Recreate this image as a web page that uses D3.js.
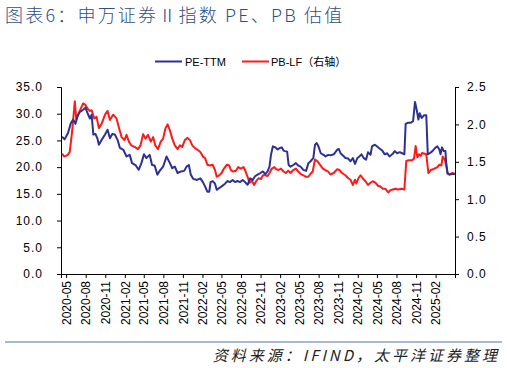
<!DOCTYPE html>
<html><head><meta charset="utf-8">
<script src="https://cdn.jsdelivr.net/npm/d3@7"></script>
<style>body{margin:0;background:#fff;}svg{display:block;}</style>
</head><body>
<svg id="chart" width="507" height="368"></svg>
<script>
// Time is given as decimal year (year + month/12 + fraction of month)
const peTime = [2020.282,2020.316,2020.359,2020.393,2020.423,2020.453,2020.479,2020.509,2020.552,2020.582,2020.616,2020.638,2020.659,2020.681,2020.711,2020.736,2020.754,2020.788,2020.831,2020.865,2020.895,2020.925,2020.959,2020.994,2021.024,2021.067,2021.110,2021.153,2021.183,2021.226,2021.269,2021.303,2021.337,2021.367,2021.410,2021.440,2021.475,2021.509,2021.539,2021.582,2021.625,2021.668,2021.698,2021.732,2021.767,2021.810,2021.852,2021.882,2021.913,2021.938,2021.968,2022.015,2022.058,2022.092,2022.122,2022.152,2022.178,2022.195,2022.221,2022.251,2022.273,2022.307,2022.337,2022.380,2022.410,2022.444,2022.479,2022.509,2022.539,2022.573,2022.607,2022.637,2022.667,2022.702,2022.736,2022.766,2022.796,2022.831,2022.865,2022.895,2022.925,2022.951,2022.968,2022.994,2023.024,2023.054,2023.079,2023.109,2023.131,2023.152,2023.182,2023.199,2023.225,2023.259,2023.294,2023.324,2023.354,2023.388,2023.423,2023.453,2023.483,2023.517,2023.539,2023.560,2023.582,2023.612,2023.646,2023.672,2023.706,2023.736,2023.779,2023.822,2023.844,2023.865,2023.895,2023.929,2023.963,2023.993,2024.023,2024.049,2024.079,2024.109,2024.135,2024.165,2024.195,2024.220,2024.250,2024.272,2024.306,2024.336,2024.366,2024.401,2024.435,2024.465,2024.495,2024.530,2024.564,2024.594,2024.624,2024.658,2024.684,2024.701,2024.736,2024.766,2024.796,2024.822,2024.843,2024.864,2024.882,2024.907,2024.937,2024.967,2024.984,2025.010,2025.044,2025.079,2025.109,2025.139,2025.152,2025.173,2025.195,2025.216,2025.225,2025.242,2025.268,2025.302,2025.337];
const peValues = [25.7,25.2,26.4,28.2,28.9,28.1,29.5,30.3,30.75,31.1,29.8,29.1,29.8,26.1,26.2,25.4,24.2,25.1,26.1,27.0,25.4,26.2,26.1,25.1,23.6,23.25,22.0,22.3,20.75,20.4,19.5,20.75,22.4,21.7,22.3,20.4,20.3,18.6,19.3,20.1,22.0,20.75,19.8,20.1,18.9,19.2,19.3,20.1,20.4,18.6,17.8,17.6,17.9,17.2,16.4,15.4,15.4,17.2,17.4,16.9,15.75,16.1,16.4,16.9,17.4,17.2,17.6,17.2,17.4,17.2,17.6,17.2,16.7,17.9,17.6,18.3,18.6,18.9,19.2,18.7,19.2,20.1,22.3,23.9,23.7,23.3,23.6,23.7,23.1,23.0,22.9,20.4,20.1,20.4,20.75,20.3,20.1,19.5,19.3,20.75,21.1,21.7,24.2,24.5,23.9,22.6,22.3,22.0,22.3,22.2,22.4,23.25,23.4,22.6,22.2,21.7,21.6,21.1,21.7,20.6,21.7,22.0,22.4,21.7,21.4,22.8,22.3,23.9,24.2,23.9,23.5,23.1,22.4,22.6,22.0,22.4,23.0,22.6,22.8,22.6,22.4,28.1,28.3,28.3,28.6,32.2,30.75,28.9,30.1,29.2,29.7,29.7,22.4,22.6,23.0,23.6,23.9,23.25,22.4,23.7,23.0,23.0,21.1,18.8,18.6,18.7,18.7];
const pbTime = [2020.282,2020.307,2020.350,2020.380,2020.410,2020.432,2020.445,2020.466,2020.488,2020.522,2020.552,2020.582,2020.608,2020.638,2020.659,2020.694,2020.724,2020.754,2020.788,2020.831,2020.865,2020.895,2020.938,2020.981,2021.011,2021.045,2021.079,2021.110,2021.140,2021.174,2021.217,2021.260,2021.294,2021.325,2021.355,2021.389,2021.423,2021.453,2021.483,2021.518,2021.552,2021.582,2021.612,2021.638,2021.668,2021.698,2021.732,2021.767,2021.797,2021.827,2021.861,2021.895,2021.925,2021.955,2021.994,2022.024,2022.058,2022.092,2022.122,2022.152,2022.187,2022.221,2022.251,2022.273,2022.307,2022.337,2022.367,2022.402,2022.436,2022.453,2022.487,2022.521,2022.551,2022.582,2022.616,2022.637,2022.667,2022.693,2022.723,2022.753,2022.779,2022.809,2022.839,2022.865,2022.895,2022.925,2022.951,2022.981,2023.011,2023.036,2023.066,2023.096,2023.131,2023.165,2023.195,2023.225,2023.259,2023.294,2023.324,2023.354,2023.388,2023.423,2023.453,2023.483,2023.509,2023.539,2023.569,2023.603,2023.638,2023.672,2023.706,2023.736,2023.779,2023.822,2023.852,2023.886,2023.929,2023.963,2023.993,2024.023,2024.049,2024.066,2024.092,2024.122,2024.152,2024.186,2024.220,2024.250,2024.280,2024.315,2024.349,2024.379,2024.409,2024.443,2024.478,2024.508,2024.538,2024.572,2024.607,2024.650,2024.684,2024.710,2024.744,2024.779,2024.809,2024.830,2024.852,2024.873,2024.895,2024.916,2024.937,2024.967,2024.993,2025.023,2025.053,2025.087,2025.109,2025.139,2025.165,2025.182,2025.208,2025.225,2025.242,2025.268,2025.302,2025.337];
const pbValues = [1.61,1.57,1.59,1.63,1.90,2.15,2.31,2.06,2.13,2.21,2.28,2.26,2.21,2.18,2.19,2.08,2.10,1.95,2.01,2.13,2.18,2.06,2.13,2.08,1.95,1.83,1.79,1.86,1.77,1.72,1.70,1.67,1.72,1.87,1.81,1.86,1.77,1.83,1.72,1.67,1.77,1.81,1.95,2.00,1.92,1.81,1.72,1.67,1.72,1.70,1.79,1.82,1.79,1.72,1.68,1.66,1.63,1.57,1.55,1.46,1.45,1.46,1.39,1.30,1.32,1.35,1.41,1.46,1.45,1.39,1.37,1.38,1.43,1.41,1.43,1.39,1.30,1.22,1.25,1.19,1.24,1.28,1.27,1.32,1.32,1.31,1.35,1.41,1.43,1.40,1.39,1.41,1.37,1.35,1.38,1.35,1.39,1.41,1.37,1.34,1.32,1.30,1.30,1.34,1.37,1.53,1.51,1.46,1.41,1.39,1.37,1.33,1.35,1.40,1.39,1.35,1.32,1.28,1.26,1.19,1.26,1.21,1.28,1.32,1.28,1.24,1.19,1.22,1.24,1.22,1.18,1.17,1.14,1.14,1.09,1.12,1.13,1.14,1.13,1.14,1.13,1.51,1.52,1.52,1.54,1.71,1.56,1.60,1.58,1.62,1.61,1.60,1.35,1.39,1.40,1.42,1.43,1.46,1.45,1.57,1.53,1.46,1.35,1.33,1.35,1.34];
const leftTicks = [0,5,10,15,20,25,30,35];
const rightTicks = [0,0.5,1.0,1.5,2.0,2.5];
const xTickLabels = ["2020-05","2020-08","2020-11","2021-02","2021-05","2021-08","2021-11","2022-02","2022-05","2022-08","2022-11","2023-02","2023-05","2023-08","2023-11","2024-02","2024-05","2024-08","2024-11","2025-02"];
const seriesNames = ["PE-TTM","PB-LF（右轴）"];
const seriesColors = ["#2E3192","#FF1A1A"];
const titleText = "图表6：申万证券Ⅱ指数 PE、PB 估值";
const sourceText = "资料来源：IFIND，太平洋证券整理";

function toDate(t){
  const y = Math.floor(t);
  const mf = (t - y) * 12;
  const m = Math.floor(mf);
  const dim = new Date(y, m + 1, 0).getDate();
  return new Date(y, m, 1 + (mf - m) * dim);
}
const parseLabel = d3.timeParse("%Y-%m");

const svg = d3.select("#chart");
const L = 61, R = 455, T = 87, B = 274;

const x = d3.scaleTime().domain([toDate(2020.269), toDate(2025.340)]).range([L, R]);
const yL = d3.scaleLinear().domain([0, 35]).range([B, T]);
const yR = d3.scaleLinear().domain([0, 2.5]).range([B, T]);

// Title
svg.append("text").attr("x", 5).attr("y", 22)
  .attr("font-family", "'Noto Sans CJK SC', sans-serif").attr("font-size", 18).attr("font-weight", 300)
  .attr("letter-spacing", 2.2)
  .attr("fill", "#2F4F82").text(titleText);

// Legend
const lg = svg.append("g").attr("font-family", "'Liberation Sans', Arial, 'Noto Sans CJK SC', sans-serif").attr("font-size", 11);
[[155, 185], [242, 271]].forEach((p, i) => {
  lg.append("line").attr("x1", p[0]).attr("x2", p[0] + 27).attr("y1", 61.5).attr("y2", 61.5)
    .attr("stroke", seriesColors[i]).attr("stroke-width", 2);
  lg.append("text").attr("x", p[1]).attr("y", 65.5).attr("fill", "#000").text(seriesNames[i]);
});

// Axes
const fmt = d3.format(".1f");
const gL = svg.append("g").attr("transform", `translate(${L},0)`)
  .call(d3.axisLeft(yL).tickValues(leftTicks).tickSize(4).tickPadding(14).tickFormat(fmt));
const gR = svg.append("g").attr("transform", `translate(${R},0)`)
  .call(d3.axisRight(yR).tickValues(rightTicks).tickSize(4).tickPadding(8).tickFormat(fmt));
const gX = svg.append("g").attr("transform", `translate(0,${B})`)
  .call(d3.axisBottom(x).tickValues(xTickLabels.map(parseLabel)).tickSize(4).tickPadding(4).tickFormat(d3.timeFormat("%Y-%m")));
[gL, gR, gX].forEach(g => {
  g.select(".domain").attr("stroke", "#000");
  g.selectAll(".tick line").attr("stroke", "#000");
  g.selectAll("text").attr("font-family", "'Liberation Sans', Arial, sans-serif").attr("font-size", 12).attr("fill", "#000");
});
gL.selectAll("text").attr("letter-spacing", 1);
gR.selectAll("text").attr("letter-spacing", 1);
gX.selectAll("text").attr("transform", "rotate(-90)").attr("text-anchor", "end")
  .attr("x", -7).attr("y", 0).attr("dy", "0.35em");

// Lines
const linePE = d3.line().x((d, i) => x(toDate(peTime[i]))).y(d => yL(d));
const linePB = d3.line().x((d, i) => x(toDate(pbTime[i]))).y(d => yR(d));
svg.append("path").datum(pbValues).attr("d", linePB).attr("fill", "none")
  .attr("stroke", seriesColors[1]).attr("stroke-width", 2).attr("stroke-linejoin", "round");
svg.append("path").datum(peValues).attr("d", linePE).attr("fill", "none")
  .attr("stroke", seriesColors[0]).attr("stroke-width", 2).attr("stroke-linejoin", "round");

// Footer
svg.append("line").attr("x1", 5).attr("x2", 502).attr("y1", 342).attr("y2", 342)
  .attr("stroke", "#8EA0C0").attr("stroke-width", 1.5);
svg.append("text").attr("x", 500).attr("y", 361).attr("text-anchor", "end")
  .attr("font-family", "'Noto Sans CJK SC', sans-serif").attr("font-size", 15).attr("font-style", "italic")
  .attr("letter-spacing", 3).attr("fill", "#222").text(sourceText);
</script>
</body></html>
